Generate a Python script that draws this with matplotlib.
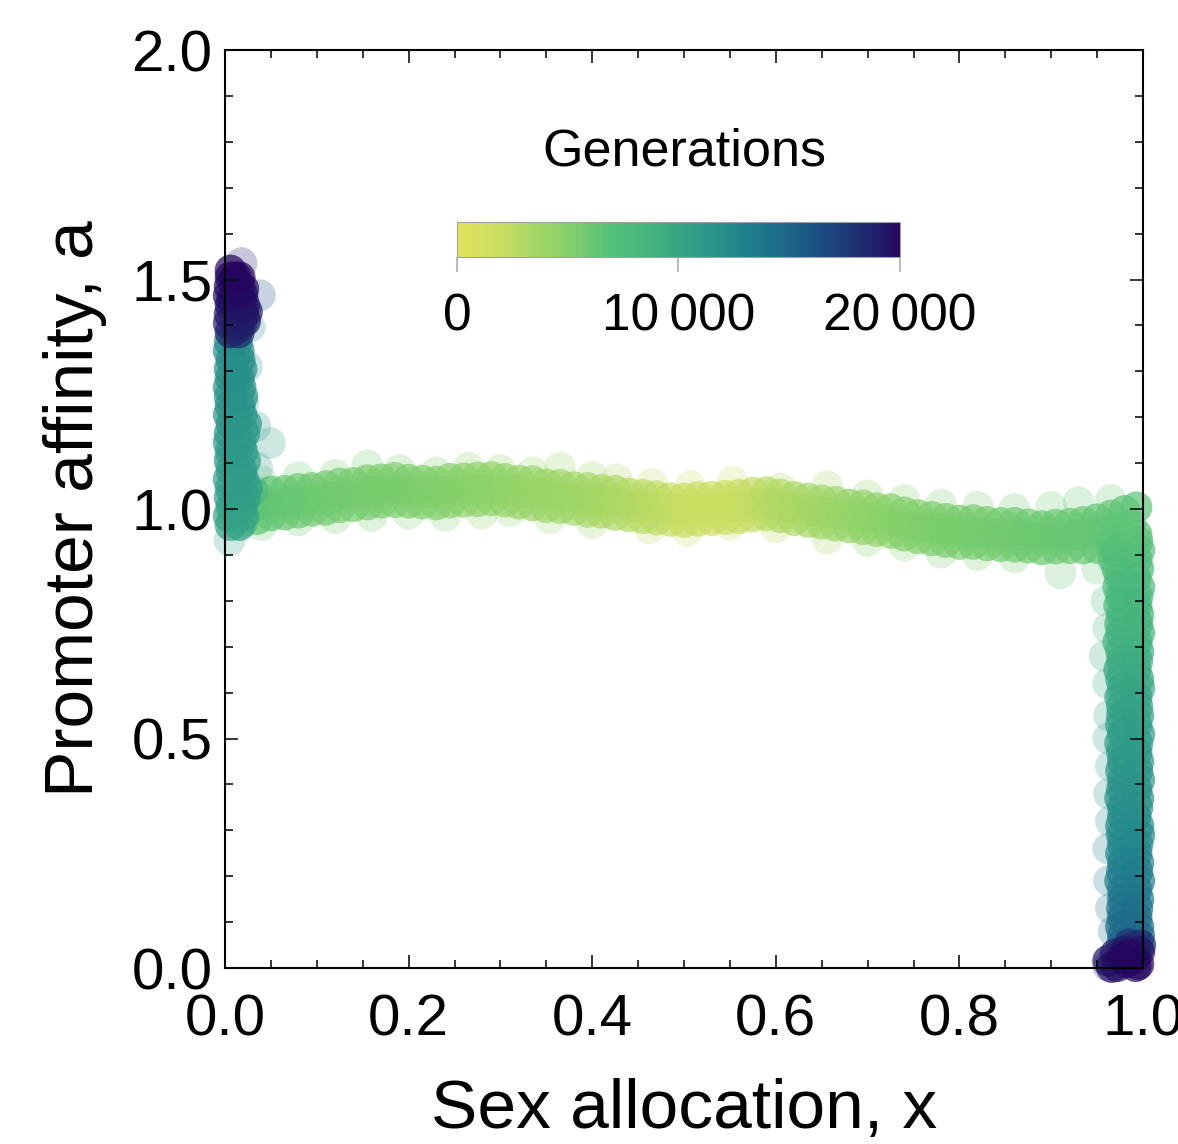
import numpy as np
import matplotlib
matplotlib.use("Agg")
import matplotlib.pyplot as plt
from matplotlib.colors import LinearSegmentedColormap, Normalize
from matplotlib.ticker import MultipleLocator, FormatStrFormatter, NullLocator
import matplotlib.cm as cm

plt.rcParams['font.family'] = ['Liberation Sans', 'DejaVu Sans']

# ---------------- data ----------------
# horizontal band (core): x, upper/lower core rows of a, generation
hx = [0.020, 0.035, 0.050, 0.065, 0.080, 0.095, 0.110, 0.125, 0.140, 0.155,
      0.170, 0.185, 0.200, 0.215, 0.230, 0.245, 0.260, 0.275, 0.290, 0.305,
      0.320, 0.335, 0.350, 0.365, 0.380, 0.395, 0.410, 0.425, 0.440, 0.455,
      0.470, 0.485, 0.500, 0.515, 0.530, 0.545, 0.560, 0.575, 0.590, 0.605,
      0.620, 0.635, 0.650, 0.665, 0.680, 0.695, 0.710, 0.725, 0.740, 0.755,
      0.770, 0.785, 0.800, 0.815, 0.830, 0.845, 0.860, 0.875, 0.890, 0.905,
      0.920, 0.935, 0.950, 0.965, 0.980, 0.993]
ha_hi = [1.024, 1.030, 1.038, 1.040, 1.044, 1.046, 1.050, 1.056, 1.057, 1.063,
         1.065, 1.068, 1.064, 1.062, 1.060, 1.066, 1.067, 1.069, 1.070, 1.066,
         1.062, 1.061, 1.054, 1.053, 1.048, 1.046, 1.042, 1.040, 1.034, 1.031,
         1.028, 1.024, 1.023, 1.026, 1.027, 1.029, 1.031, 1.036, 1.037, 1.032,
         1.027, 1.023, 1.019, 1.016, 1.010, 1.008, 1.002, 1.000, 0.993, 0.987,
         0.983, 0.979, 0.975, 0.976, 0.972, 0.970, 0.970, 0.967, 0.963, 0.966,
         0.968, 0.972, 0.978, 0.986, 0.996, 1.004]
ha_lo = [0.974, 0.978, 0.986, 0.988, 0.992, 0.996, 0.998, 1.004, 1.006, 1.010,
         1.014, 1.015, 1.014, 1.012, 1.010, 1.014, 1.016, 1.017, 1.019, 1.016,
         1.012, 1.008, 1.004, 1.002, 0.998, 0.994, 0.992, 0.987, 0.984, 0.980,
         0.977, 0.974, 0.972, 0.974, 0.976, 0.978, 0.980, 0.984, 0.986, 0.982,
         0.976, 0.972, 0.968, 0.964, 0.960, 0.956, 0.952, 0.948, 0.942, 0.936,
         0.932, 0.928, 0.924, 0.924, 0.921, 0.919, 0.918, 0.916, 0.912, 0.914,
         0.915, 0.914, 0.915, 0.920, 0.930, 0.945]
hg = [6500, 6400, 6250, 6100, 5950, 5830, 5750, 5680, 5600, 5530,
      5450, 5380, 5300, 5170, 5030, 4900, 4760, 4630, 4500, 4350,
      4200, 4050, 3900, 3750, 3600, 3450, 3250, 3030, 2800, 2580,
      2350, 2130, 1900, 1750, 1600, 1750, 2000, 2250, 2600, 2900,
      3150, 3400, 3650, 3900, 4150, 4400, 4650, 4800, 4950, 5100,
      5250, 5400, 5500, 5580, 5650, 5730, 5800, 5880, 5950, 6030,
      6100, 6180, 6250, 6330, 6420, 6500]
# middle row of the band, read between the sample positions above
mx = [0.028, 0.043, 0.058, 0.072, 0.088, 0.103, 0.118, 0.132, 0.148, 0.162,
      0.178, 0.192, 0.207, 0.222, 0.238, 0.252, 0.268, 0.283, 0.297, 0.312,
      0.328, 0.342, 0.358, 0.372, 0.388, 0.402, 0.418, 0.432, 0.448, 0.462,
      0.478, 0.492, 0.507, 0.522, 0.538, 0.552, 0.568, 0.582, 0.598, 0.612,
      0.628, 0.642, 0.658, 0.672, 0.688, 0.702, 0.718, 0.732, 0.748, 0.762,
      0.778, 0.792, 0.808, 0.822, 0.838, 0.852, 0.868, 0.882, 0.898, 0.912,
      0.928, 0.942, 0.958, 0.972, 0.986]
ma = [1.002, 1.010, 1.012, 1.016, 1.020, 1.022, 1.026, 1.031, 1.035, 1.038,
      1.041, 1.040, 1.038, 1.036, 1.038, 1.040, 1.042, 1.044, 1.043, 1.040,
      1.036, 1.033, 1.029, 1.026, 1.022, 1.019, 1.016, 1.012, 1.008, 1.004,
      1.001, 0.998, 0.999, 1.001, 1.003, 1.005, 1.008, 1.011, 1.010, 1.005,
      1.000, 0.996, 0.992, 0.988, 0.984, 0.980, 0.976, 0.971, 0.965, 0.960,
      0.956, 0.952, 0.950, 0.948, 0.946, 0.944, 0.943, 0.940, 0.939, 0.941,
      0.944, 0.948, 0.952, 0.958, 0.966]
mg = [6450, 6320, 6180, 6020, 5890, 5800, 5720, 5640, 5570, 5490,
      5420, 5340, 5240, 5100, 4970, 4830, 4700, 4560, 4430, 4280,
      4130, 3980, 3830, 3680, 3530, 3350, 3140, 2920, 2690, 2470,
      2240, 2020, 1820, 1680, 1680, 1870, 2120, 2420, 2750, 3020,
      3280, 3520, 3780, 4030, 4280, 4520, 4720, 4870, 5020, 5170,
      5320, 5450, 5540, 5620, 5690, 5770, 5840, 5920, 5990, 6070,
      6140, 6210, 6290, 6380, 6460]

# left vertical branch (x near 0): a, inner / outer x, generation
la = [0.965, 0.985, 1.005, 1.025, 1.045, 1.065, 1.085, 1.105, 1.125, 1.145,
      1.165, 1.185, 1.205, 1.225, 1.245, 1.265, 1.285, 1.305, 1.325, 1.345,
      1.365, 1.385, 1.405, 1.425, 1.445, 1.465, 1.485, 1.505]
lx_in = [0.006, 0.004, 0.007, 0.005, 0.006, 0.004, 0.007, 0.005, 0.006, 0.004,
         0.005, 0.007, 0.004, 0.006, 0.005, 0.004, 0.006, 0.005, 0.007, 0.004,
         0.005, 0.006, 0.004, 0.005, 0.006, 0.004, 0.005, 0.006]
lx_out = [0.016, 0.020, 0.018, 0.022, 0.024, 0.020, 0.018, 0.022, 0.019, 0.017,
          0.021, 0.023, 0.018, 0.016, 0.019, 0.017, 0.015, 0.018, 0.016, 0.015,
          0.013, 0.015, 0.018, 0.020, 0.021, 0.019, 0.016, 0.012]
lg = [10200, 10300, 10400, 10500, 10600, 10700, 10800, 10900, 11000, 11100,
      11200, 11300, 11400, 11500, 11600, 11700, 11800, 11900, 12000, 12100,
      12200, 18600, 18900, 19200, 19400, 19600, 19800, 20000]

# right vertical branch (x near 1): a, inner / outer x, generation
ra = [0.93, 0.91, 0.89, 0.87, 0.85, 0.83, 0.81, 0.79, 0.77, 0.75,
      0.73, 0.71, 0.69, 0.67, 0.65, 0.63, 0.61, 0.59, 0.57, 0.55,
      0.53, 0.51, 0.49, 0.47, 0.45, 0.43, 0.41, 0.39, 0.37, 0.35,
      0.33, 0.31, 0.29, 0.27, 0.25, 0.23, 0.21, 0.19, 0.17, 0.15,
      0.13, 0.11, 0.09, 0.07, 0.05]
rx_in = [0.994, 0.996, 0.993, 0.995, 0.992, 0.996, 0.994, 0.993, 0.995, 0.994,
         0.996, 0.993, 0.995, 0.994, 0.992, 0.995, 0.996, 0.993, 0.994, 0.995,
         0.993, 0.996, 0.994, 0.993, 0.995, 0.994, 0.996, 0.993, 0.995, 0.994,
         0.992, 0.995, 0.996, 0.994, 0.993, 0.995, 0.994, 0.996, 0.993, 0.995,
         0.994, 0.993, 0.995, 0.996, 0.994]
rx_out = [0.966, 0.970, 0.968, 0.972, 0.975, 0.973, 0.976, 0.974, 0.977, 0.975,
          0.976, 0.973, 0.976, 0.977, 0.974, 0.976, 0.978, 0.975, 0.977, 0.977,
          0.976, 0.978, 0.975, 0.977, 0.978, 0.976, 0.978, 0.977, 0.975, 0.978,
          0.978, 0.976, 0.977, 0.978, 0.976, 0.978, 0.977, 0.975, 0.978, 0.978,
          0.977, 0.978, 0.976, 0.978, 0.977]
rg = [6600, 6900, 7200, 7500, 7800, 8000, 8150, 8300, 8450, 8600,
      8750, 8900, 9050, 9250, 9450, 9600, 9800, 9950, 10100, 10300,
      10450, 10650, 10800, 10950, 11100, 11250, 11400, 11550, 11700, 11850,
      12000, 12150, 12300, 12450, 12650, 12850, 13050, 13250, 13450, 13700,
      13950, 14200, 14450, 14700, 15000]

# late-generation clusters (left top, right bottom)
cx = [0.012, 0.018, 0.010, 0.022, 0.006, 0.014, 0.020, 0.008, 0.016, 0.024,
      0.990, 0.996, 0.982, 0.972, 0.995, 0.986, 0.978, 0.990, 0.966, 0.997,
      0.980, 0.992, 0.962, 0.970, 0.985]
ca = [1.470, 1.440, 1.500, 1.410, 1.520, 1.395, 1.480, 1.455, 1.505, 1.430,
      0.020, 0.035, 0.012, 0.004, 0.008, 0.030, 0.022, 0.045, 0.002, 0.050,
      0.036, 0.004, 0.016, 0.030, 0.052]
cg = [19700, 19300, 20000, 19000, 19900, 18800, 19800, 19500, 20000, 19200,
      19200, 19500, 19400, 19700, 19800, 19900, 20000, 17500, 19600, 18200,
      19300, 20000, 19100, 19000, 18000]

# isolated pale points around the cloud
fx = [0.040, 0.080, 0.120, 0.155, 0.190, 0.230, 0.265, 0.300, 0.335, 0.365,
      0.400, 0.427, 0.465, 0.507, 0.553, 0.605, 0.656, 0.700, 0.740, 0.780,
      0.820, 0.860, 0.900, 0.930, 0.965,
      0.040, 0.080, 0.120, 0.160, 0.200, 0.240, 0.280, 0.310, 0.354, 0.400,
      0.463, 0.503, 0.550, 0.600, 0.656, 0.700, 0.740, 0.780, 0.820, 0.860,
      0.910, 0.950,
      0.018, 0.038, 0.027, 0.024, 0.020, 0.033, 0.049, 0.035, 0.005, 0.030,
      0.960, 0.962, 0.958, 0.962, 0.963, 0.962, 0.965, 0.963, 0.965, 0.962,
      0.963, 0.965, 0.968, 0.962]
fa = [1.060, 1.070, 1.075, 1.095, 1.085, 1.080, 1.090, 1.085, 1.080, 1.090,
      1.070, 1.065, 1.055, 1.050, 1.060, 1.045, 1.050, 1.030, 1.020, 1.010,
      1.005, 1.000, 1.005, 1.015, 1.020,
      0.965, 0.975, 0.980, 0.985, 0.990, 0.985, 0.990, 0.995, 0.980, 0.970,
      0.958, 0.952, 0.965, 0.960, 0.936, 0.930, 0.920, 0.905, 0.900, 0.895,
      0.860, 0.870,
      1.536, 1.466, 1.397, 1.310, 1.230, 1.180, 1.144, 1.090, 0.932, 1.040,
      0.800, 0.740, 0.680, 0.620, 0.550, 0.500, 0.440, 0.380, 0.320, 0.260,
      0.190, 0.130, 0.080, 0.005]
fg = [6300, 5950, 5700, 5530, 5360, 5030, 4700, 4400, 4050, 3750,
      3400, 3000, 2420, 1820, 1870, 2900, 3720, 4500, 4950, 5350,
      5600, 5800, 6000, 6150, 6330,
      6300, 5950, 5700, 5500, 5300, 4950, 4580, 4300, 3860, 3400,
      2450, 1850, 1900, 2800, 3720, 4500, 4950, 5350, 5600, 5800,
      6050, 6250,
      19500, 16500, 12400, 12000, 11500, 11300, 11100, 10800, 10300, 10600,
      8200, 8650, 9150, 9700, 10300, 10700, 11200, 11600, 12100, 12550,
      13250, 13950, 14600, 19000]

cbar_ticks = [0, 10000, 20000]
cbar_ticklabels = ['0', '10\u2009000', '20\u2009000']

# ---------------- colormap ----------------
cstops = [(0.00, '#e3e35b'), (0.11, '#c4dd62'), (0.17, '#a6d766'),
          (0.22, '#92d468'), (0.28, '#76cc6e'), (0.34, '#55c178'),
          (0.44, '#44b47e'), (0.50, '#35a585'), (0.55, '#2e9b88'),
          (0.61, '#268c8a'), (0.66, '#1f7e8c'), (0.78, '#1c5c87'),
          (0.82, '#1b4c82'), (0.89, '#1d3575'), (0.96, '#211a67'),
          (1.00, '#25065f')]
cmap = LinearSegmentedColormap.from_list('gen', cstops)
norm = Normalize(0, 20000)

# ---------------- assemble points ----------------
px = np.concatenate([hx, hx, mx, lx_in, lx_out, rx_in, rx_out, cx, fx])
pa = np.concatenate([ha_hi, ha_lo, ma, la, la, ra, ra, ca, fa])
pg = np.concatenate([hg, hg, mg, lg, lg, rg, rg, cg, fg])
alpha_core, alpha_fringe = 0.7, 0.24
n_core = len(px) - len(fx)
alphas = np.concatenate([np.full(n_core, alpha_core), np.full(len(fx), alpha_fringe)])
colors = cmap(norm(pg))
colors[:, 3] = alphas
order = np.argsort(pg, kind='stable')

# ---------------- figure ----------------
fig = plt.figure(figsize=(11.78, 11.44), dpi=100)
ax = fig.add_axes([0.191, 0.1538, 0.7793, 0.8024])
ax.scatter(px[order], pa[order], s=520, c=colors[order], edgecolors='none',
           clip_on=False, zorder=1)

ax.set_xlim(0, 1)
ax.set_ylim(0, 2)
ax.xaxis.set_major_locator(MultipleLocator(0.2))
ax.xaxis.set_minor_locator(MultipleLocator(0.05))
ax.yaxis.set_major_locator(MultipleLocator(0.5))
ax.yaxis.set_minor_locator(MultipleLocator(0.1))
ax.xaxis.set_major_formatter(FormatStrFormatter('%.1f'))
ax.yaxis.set_major_formatter(FormatStrFormatter('%.1f'))
ax.tick_params(which='both', direction='in', top=True, right=True,
               width=1.1, color='black')
ax.tick_params(which='major', length=9.4, labelsize=42)
ax.tick_params(which='minor', length=5.8)
ax.tick_params(axis='x', which='major', pad=18)
ax.tick_params(axis='y', which='major', pad=9)
for sp in ax.spines.values():
    sp.set_linewidth(1.5)

ax.set_xlabel('Sex allocation, x', fontsize=50)
ax.set_ylabel('Promoter affinity, a', fontsize=50)
ax.xaxis.set_label_coords(0.5, -0.120)
ax.yaxis.set_label_coords(-0.128, 0.5)

# colorbar inset
cax = ax.inset_axes([0.2527, 0.7745, 0.4826, 0.038])
sm = cm.ScalarMappable(norm=norm, cmap=cmap)
cb = fig.colorbar(sm, cax=cax, orientation='horizontal')
cb.set_ticks(cbar_ticks)
cb.set_ticklabels(cbar_ticklabels)
cb.outline.set_edgecolor('#a0a0a0')
cb.outline.set_linewidth(0.8)
cax.tick_params(direction='out', length=10.8, width=1.1, color='#a8a8a8',
                labelsize=37, pad=15)
cax.xaxis.set_minor_locator(NullLocator())
ax.text(0.5, 0.889, 'Generations', transform=ax.transAxes, ha='center',
        va='center', fontsize=37.5)

fig.savefig('out.png', dpi=100)
